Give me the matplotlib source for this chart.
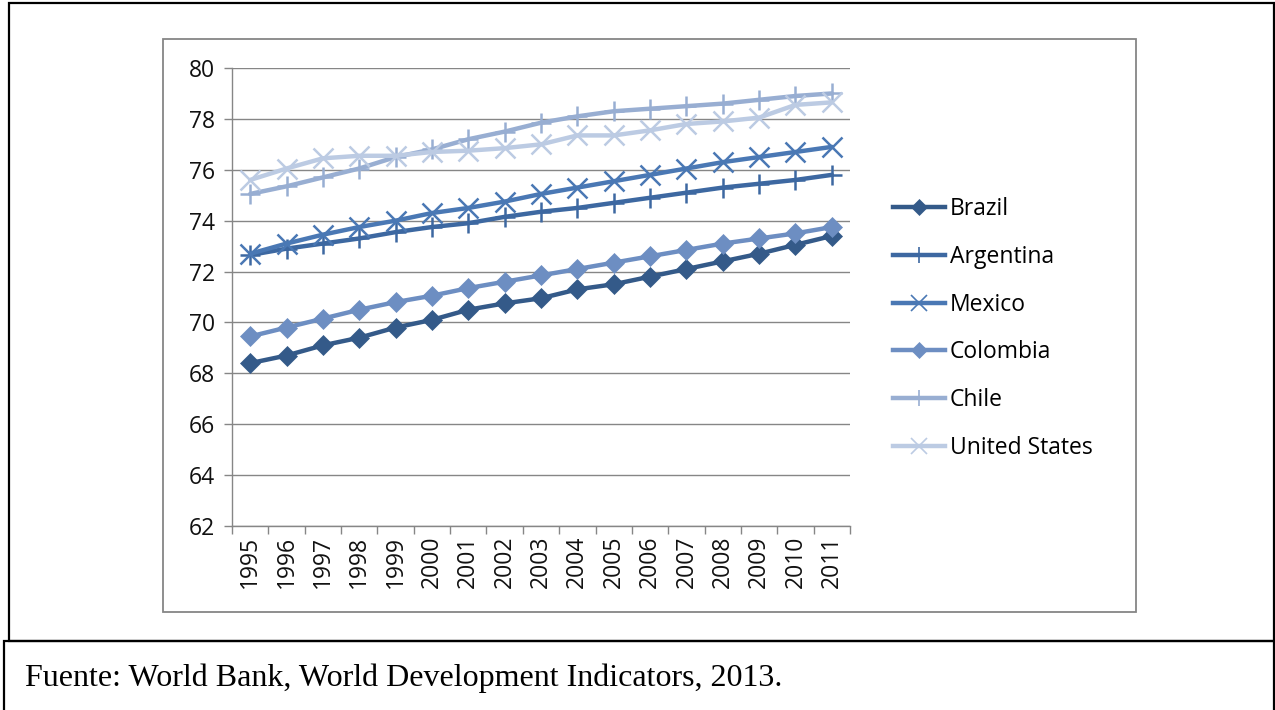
import matplotlib
matplotlib.use("Agg")
import matplotlib.pyplot as plt
from matplotlib.patches import Rectangle
from matplotlib.lines import Line2D

years = [str(y) for y in range(1995, 2012)]

brazil = [68.4, 68.7, 69.1, 69.4, 69.8, 70.1, 70.5, 70.75, 70.95, 71.3, 71.5,
          71.8, 72.1, 72.4, 72.7, 73.05, 73.4]
argentina = [72.65, 72.9, 73.1, 73.3, 73.55, 73.75, 73.9, 74.15, 74.35, 74.5,
             74.7, 74.9, 75.1, 75.3, 75.45, 75.6, 75.8]
mexico = [72.7, 73.1, 73.45, 73.75, 74.0, 74.3, 74.5, 74.75, 75.05, 75.3,
          75.55, 75.8, 76.05, 76.3, 76.5, 76.7, 76.9]
colombia = [69.45, 69.8, 70.15, 70.5, 70.8, 71.05, 71.35, 71.6, 71.85, 72.1,
            72.35, 72.6, 72.85, 73.1, 73.3, 73.5, 73.75]
chile = [75.05, 75.35, 75.7, 76.05, 76.5, 76.8, 77.2, 77.5, 77.85, 78.1,
         78.3, 78.4, 78.5, 78.6, 78.75, 78.9, 79.0]
united_states = [75.6, 76.05, 76.45, 76.55, 76.55, 76.7, 76.75, 76.85, 77.0,
                 77.35, 77.35, 77.55, 77.8, 77.9, 78.05, 78.55, 78.65]

countries = ["Brazil", "Argentina", "Mexico", "Colombia", "Chile", "United States"]
series = [brazil, argentina, mexico, colombia, chile, united_states]

colors = ["#345A89", "#3D68A1", "#4A78B4", "#6D8EC2", "#98AED2", "#BCCBE3"]
markers = ["D", "+", "x", "D", "+", "x"]
msizes = [10.5, 15, 15, 10.5, 15, 15]

FS = 16.5
W, H = 1275, 710
fig = plt.figure(figsize=(W / 100, H / 100), dpi=100)
fig.patch.set_facecolor("white")


def box(x0, y0, x1, y1, **kw):
    # pixel coords, origin at top-left
    return Rectangle((x0 / W, 1 - y1 / H), (x1 - x0) / W, (y1 - y0) / H,
                     transform=fig.transFigure, fill=False, **kw)


# outer border and the caption box under it
fig.add_artist(box(9, 3, 1274, 641, edgecolor="black", linewidth=1.6))
fig.add_artist(box(4, 641, 1274, 720, edgecolor="black", linewidth=1.6))
# grey chart frame
fig.add_artist(box(163, 39, 1136, 612, edgecolor="#868686", linewidth=1.3))

ax = fig.add_axes([232 / W, 1 - 526 / H, (850 - 232) / W, (526 - 68) / H])
x = list(range(len(years)))
for name, vals, c, m, ms in zip(countries, series, colors, markers, msizes):
    ax.plot(x, vals, color=c, linewidth=3.2, marker=m, markersize=ms,
            markeredgewidth=1.8 if m != "D" else 0.5, markeredgecolor=c,
            markerfacecolor=c, label=name, solid_capstyle="round")

ax.set_xlim(-0.5, len(years) - 0.5)
ax.set_ylim(62, 80)
ax.set_yticks(range(62, 81, 2))
ax.set_xticks(x)
ax.set_xticklabels(years, rotation=90)
ax.set_xticks([i - 0.5 for i in range(len(years) + 1)], minor=True)
ax.tick_params(axis="x", which="major", length=0, pad=7)
ax.tick_params(axis="x", which="minor", length=6, color="#868686", width=1)
ax.tick_params(axis="y", length=6, color="#868686", width=1, pad=6)
ax.tick_params(labelsize=FS, labelcolor="#111111")
for lab in ax.get_xticklabels() + ax.get_yticklabels():
    lab.set_family("Open Sans")

ax.grid(axis="y", color="#868686", linewidth=1)
ax.set_axisbelow(True)
for side in ["top", "right"]:
    ax.spines[side].set_visible(False)
for side in ["left", "bottom"]:
    ax.spines[side].set_color("#868686")
    ax.spines[side].set_linewidth(1)

handles = [Line2D([], [], color=c, linewidth=3.2, marker=m,
                  markersize=ms * 0.8, markeredgewidth=1.2 if m != "D" else 0.5,
                  markeredgecolor=c, markerfacecolor=c)
           for c, m, ms in zip(colors, markers, msizes)]
fig.legend(handles, countries, loc="upper left",
           bbox_to_anchor=(893 / W, 1 - 197 / H), frameon=False,
           borderpad=0, borderaxespad=0,
           handlelength=2.27, handletextpad=0.22, labelspacing=1.04,
           prop={"family": "Open Sans", "size": FS})

fig.text(25 / W, 1 - 678 / H, "Fuente: World Bank, World Development Indicators, 2013.",
         family="Liberation Serif", fontsize=23, va="center", ha="left")

fig.savefig("out.png", dpi=100)
